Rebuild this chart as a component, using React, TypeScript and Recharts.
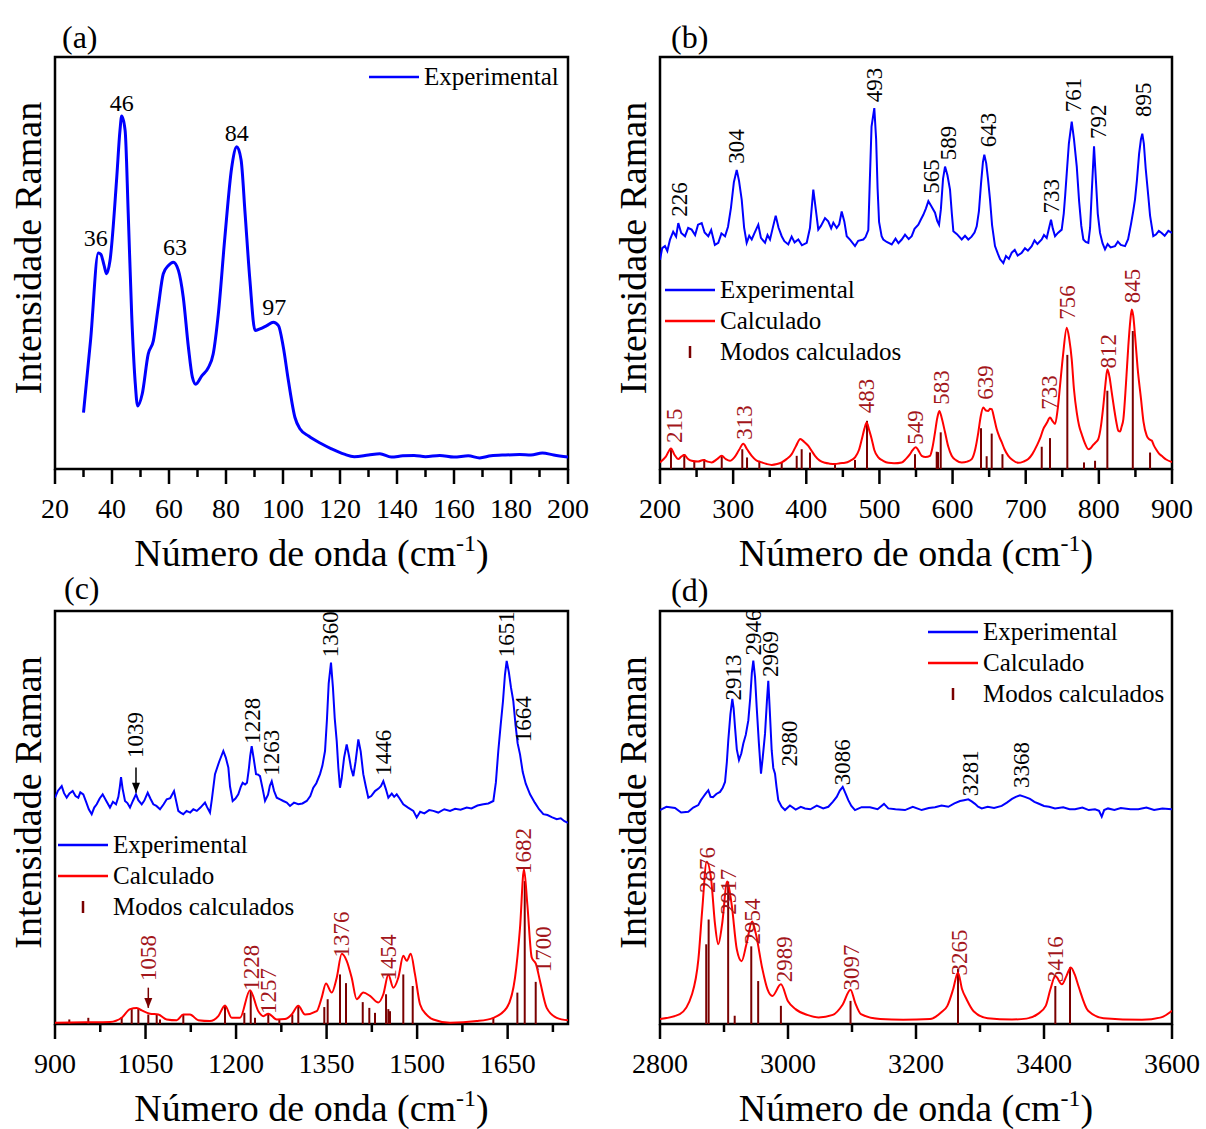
import React from 'react';
import {
  ComposedChart,
  Line,
  XAxis,
  YAxis,
  ReferenceArea,
  ReferenceLine,
  ReferenceDot,
  Legend,
  Label,
} from 'recharts';

type Pt = [number, number];

const SERIF = '"Liberation Serif", "Times New Roman", serif';
const BLUE = '#0000ff';
const RED = '#ff0000';
const STICK = '#7a0000';
const RED_TXT = '#a3161b';

// ---------- panel (a) ----------
const aTicksMajor = [20, 40, 60, 80, 100, 120, 140, 160, 180, 200];
const aTicksMinor = [30, 50, 70, 90, 110, 130, 150, 170, 190];
const aExp: Pt[] = [
  [30, 13.7], [32.5, 31.4], [35.2, 52.4], [36.1, 52.1], [37.2, 49.5], [38.1, 47.4], [39.3, 50.6],
  [41.6, 70.1], [42.8, 82.2], [43.4, 85.7], [44.6, 82.2], [45.7, 61.9], [46.9, 37.6], [48.1, 21.4],
  [49.0, 15.3], [50.6, 18.2], [52.7, 27.9], [54.5, 31.1], [56.2, 39.2], [58.0, 47.4], [59.8, 49.4],
  [61.5, 50.2], [63.3, 48.2], [65, 41.7], [66.8, 29.6], [68.2, 22.3], [69.4, 20.6], [71.5, 22.6],
  [73.8, 24.6], [75.5, 27.9], [77.3, 37.6], [79.6, 56.2], [82.0, 73.2], [83.8, 78.2], [85.3, 75.0],
  [86.7, 62.0], [88.4, 45.7], [90.2, 33.6], [91.9, 34.0], [94.3, 34.8], [96.6, 35.6], [98.4, 34.8],
  [100.1, 29.6], [101.9, 21.4], [104.2, 12.5], [106, 9.7], [109, 8.0], [113, 6.3], [117, 4.9],
  [121.5, 3.6], [125, 3.0], [130, 3.4], [134, 3.7], [138, 2.9], [142, 3.2], [146, 3.3], [150, 3.0],
  [155, 3.3], [160, 2.9], [165, 3.2], [169, 2.7], [173, 3.2], [178, 3.4], [183, 3.5], [187, 3.4],
  [191, 3.9], [195, 3.4], [200, 2.9],
];
const aExpLabels = [
  { t: '36', x: 34.3, y: 56.1 },
  { t: '46', x: 43.4, y: 88.9 },
  { t: '63', x: 62.1, y: 53.8 },
  { t: '84', x: 83.8, y: 81.6 },
  { t: '97', x: 96.9, y: 39.2 },
];

// ---------- panel (b) ----------
const bTicksMajor = [200, 300, 400, 500, 600, 700, 800, 900];
const bTicksMinor = [250, 350, 450, 550, 650, 750, 850];
const bExp: Pt[] = [
  [200, 50.8], [203, 53.6], [206.8, 54.1], [210, 52.9], [213.7, 55.7], [218, 57.6], [222, 56.4],
  [225, 59.7], [229, 57.3], [234.2, 56.5], [238.5, 58.5], [243.3, 58.1], [248, 56.8], [252, 59.3],
  [257, 59.7], [261, 57.4], [266, 56.5], [270, 58.0], [275, 54.4], [279.7, 54.9], [284, 57.2],
  [288.9, 56.5], [293, 58.8], [297, 63.4], [301, 69.6], [304.9, 72.6], [308, 70.0], [311.7, 65.4],
  [315, 58.6], [318.5, 54.9], [322, 56.6], [325.4, 55.7], [329, 57.2], [334.4, 59.3], [338, 56.1],
  [343.6, 54.9], [347, 56.8], [350.4, 55.7], [354, 58.4], [358.2, 61.5], [362, 58.6], [366.4, 56.5],
  [370, 55.3], [375.4, 54.5], [380, 56.4], [384, 55.0], [389.1, 55.7], [394, 54.3], [400.6, 54.9],
  [405, 58.5], [409.6, 67.8], [413, 63.0], [416.4, 58.1], [420, 59.0], [425.6, 60.9], [430, 60.1],
  [434, 58.4], [437, 59.8], [441.6, 58.5], [445, 59.4], [448.4, 62.5], [452, 60.1], [455.3, 56.5],
  [460, 55.6], [466.6, 54.1], [471, 55.4], [478, 55.7], [481, 56.3], [484.8, 58], [486.9, 70.2],
  [489.2, 83.1], [493, 87.6], [495.5, 80], [497.5, 68], [499.5, 60], [503, 56.5], [505.3, 55.7],
  [510, 55.1], [516.8, 54.5], [522, 55.9], [526, 54.8], [530.5, 55.7], [535, 56.9], [540, 55.8],
  [544.1, 56.5], [548, 58.3], [553.2, 59.3], [556.5, 60.5], [560, 61.7], [563.5, 63.2], [566.9, 65.0],
  [571, 63.8], [576, 62.2], [579, 60.2], [581.5, 59.3], [584, 63], [587, 70.5], [589.7, 73.4],
  [593, 71.3], [596.5, 67.8], [599, 62], [601.1, 57.7], [606, 57.0], [612.5, 55.7], [617, 56.6],
  [621.5, 55.7], [626, 56.4], [630, 57.4], [633, 58.9], [636, 62.5], [639, 69.5], [641.5, 74.5],
  [643.4, 76.3], [646, 74.2], [648.5, 70.3], [651.2, 65.4], [654, 59.2], [658, 54.1], [662, 52.2],
  [665, 50.9], [669.4, 50.0], [673, 51.7], [677, 51.0], [680.9, 52.5], [685, 53.2], [689, 51.8],
  [694.6, 52.5], [699, 53.6], [703, 53.0], [708.2, 54.1], [712, 55.5], [716, 54.6], [721.9, 55.7],
  [725, 56.8], [728.7, 56.1], [731.5, 58.2], [734.6, 60.5], [737, 58.4], [740.1, 56.5], [744, 57.3],
  [749.2, 58.1], [752, 62], [754, 66.5], [756.1, 71.8], [759, 79], [762.9, 84.3], [766, 80],
  [769.8, 73.4], [773, 65], [776, 59], [778.8, 55.7], [782, 55.1], [785.6, 54.9], [788, 58.5],
  [790.5, 68], [793.4, 78.3], [796, 70], [798.5, 62], [801.6, 57.3], [805, 54.8], [808.4, 53.3],
  [812, 54.6], [816, 53.8], [822.1, 54.1], [826, 55.2], [830, 54.4], [835.8, 54.1], [840, 55.8],
  [844, 59.5], [847, 62.6], [849.4, 65.4], [852, 70], [855, 76.5], [857.5, 80], [859.4, 81.4],
  [861.5, 79], [864, 73], [867.6, 66.2], [870, 61.5], [874.4, 56.5], [878, 56.9], [882, 57.8],
  [885.9, 57.3], [890, 56.6], [895, 57.8], [900, 57.3],
];
const bCalc: Pt[] = [
  [200, 1.6], [208, 3.0], [215, 5.0], [220, 3.4], [225, 2.4], [229, 3.0], [233.2, 3.4], [238, 2.5],
  [243.3, 2.0], [252, 1.8], [259.2, 2.2], [265, 1.8], [270.7, 1.6], [278, 2.4], [284.4, 3.2], [290, 2.4],
  [295.7, 2.0], [302, 2.9], [308, 4.6], [313.9, 6.1], [319, 4.8], [325.4, 3.2], [331, 2.2], [339, 1.6],
  [346, 1.2], [352.7, 1.0], [360, 1.2], [366.4, 1.6], [373, 2.4], [380.1, 3.6], [386, 5.6], [391.8, 7.3],
  [397, 6.6], [402.8, 5.6], [407, 4.5], [411.9, 3.2], [418, 2.1], [425.6, 1.5], [432, 1.3], [439.3, 1.2],
  [446, 1.4], [452.9, 1.5], [460, 2.0], [466.6, 2.8], [472, 4.6], [476, 7.3], [479.5, 9.8], [482.6, 11.3],
  [486, 9.4], [489.4, 7.3], [493, 4.6], [498.5, 2.8], [505, 2.0], [512.1, 1.5], [520, 1.4], [530.5, 1.6],
  [536, 2.4], [541.8, 3.6], [545, 4.5], [549.6, 5.3], [553, 4.6], [557.8, 3.2], [563, 2.9], [569.1, 3.2],
  [572.5, 5.2], [576, 8.9], [579, 12.3], [581.9, 14.1], [585, 12.5], [589.7, 8.9], [594, 5.5], [598.8, 3.2],
  [605, 2.1], [612.5, 1.6], [620, 1.8], [626.2, 2.4], [631, 4.8], [635.2, 8.9], [638.5, 12.8], [642, 14.9],
  [645.5, 14.2], [648.9, 14.1], [651, 14.6], [653.5, 14.5], [657, 12.2], [660.3, 9.7], [664, 7.8],
  [667.2, 6.5], [671, 4.8], [676.2, 3.2], [682, 2.2], [689.9, 1.5], [697, 1.8], [703.5, 2.4], [709, 3.6],
  [715, 5.6], [720, 7.6], [724, 9.7], [729, 11.2], [733.2, 12.5], [736.5, 11.7], [740.1, 10.9],
  [743.5, 14.2], [746.9, 20.2], [751, 27.6], [756.1, 34.3], [759.5, 31.6], [762.9, 26.6], [766, 19.3],
  [769.8, 13.7], [773, 10.5], [777, 8.2], [781, 6.2], [785.6, 4.8], [789, 5.1], [792, 5.8], [796, 6.5],
  [799.3, 7.3], [803, 10.6], [806.1, 15.3], [809, 20.6], [811.6, 24.2], [814.5, 22.4], [817.6, 18.6],
  [821, 14.5], [824, 11.3], [826.6, 9.3], [829, 9.1], [831, 10.2], [833.5, 12.1], [837, 20.5],
  [840.3, 29.9], [843, 36.0], [845, 38.7], [847, 37.2], [849.5, 32.3], [853, 24.5], [857.7, 16.9],
  [861, 11.5], [865.4, 8.1], [869, 7.2], [872.3, 6.9], [875, 5.8], [878.2, 4.8], [882, 3.8],
  [885.9, 3.2], [892, 2.3], [900, 1.7],
];
const bModes: Pt[] = [
  [215, 4.8], [233.2, 3.6], [246.9, 2.0], [260.5, 2.4], [284.4, 3.2], [312.5, 4.8], [319, 2.8],
  [335.8, 2.0], [366.4, 1.5], [386.9, 3.2], [393.7, 4.8], [405.1, 4.0], [439.3, 1.2], [466.6, 2.2],
  [483, 11.7], [548.6, 3.6], [578.3, 4.2], [580.1, 4.1], [583.8, 8.9], [638.9, 9.9], [646.6, 3.1],
  [653.5, 8.6], [668.2, 3.6], [721.9, 5.4], [733.2, 7.5], [756.9, 27.7], [779.7, 1.6], [794.8, 2.0],
  [811.6, 19], [846.4, 33.5], [870, 4.0],
];
const bExpLabels = [
  { t: '226', x: 227.3, y: 65.4 },
  { t: '304', x: 304.9, y: 78.3 },
  { t: '493', x: 493.0, y: 93.2 },
  { t: '565', x: 571.5, y: 71.0 },
  { t: '589', x: 594.2, y: 79.1 },
  { t: '643', x: 648.9, y: 82.3 },
  { t: '733', x: 735.5, y: 66.2 },
  { t: '761', x: 765.1, y: 90.8 },
  { t: '792', x: 799.3, y: 84.3 },
  { t: '895', x: 860.8, y: 89.6 },
];
const bCalcLabels = [
  { t: '215', x: 220.5, y: 10.5 },
  { t: '313', x: 316.2, y: 11.3 },
  { t: '483', x: 482.6, y: 17.7 },
  { t: '549', x: 549.6, y: 10.1 },
  { t: '583', x: 585.2, y: 19.8 },
  { t: '639', x: 644.4, y: 21.0 },
  { t: '733', x: 733.2, y: 18.6 },
  { t: '756', x: 756.9, y: 40.4 },
  { t: '812', x: 812.9, y: 28.6 },
  { t: '845', x: 845.7, y: 44.4 },
];

// ---------- panel (c) ----------
const cTicksMajor = [900, 1050, 1200, 1350, 1500, 1650];
const cTicksMinor = [975, 1125, 1275, 1425, 1575, 1725];
const cExp: Pt[] = [
  [900, 54.8], [905, 56.5], [911.1, 57.6], [915, 55.9], [919.4, 54.8], [924, 55.8], [929.3, 56.4],
  [934, 55.2], [938.6, 54.8], [942, 56.1], [946.9, 55.6], [952, 53.6], [956, 52.0], [960.8, 50.8],
  [965, 52.4], [969.1, 53.2], [974, 54.6], [979, 55.6], [985, 54.0], [991.1, 52.4], [996, 53.8],
  [1001.1, 53.2], [1005, 55.0], [1007.5, 57.5], [1009.4, 59.8], [1012, 57.0], [1016, 54.0],
  [1020, 53.5], [1024.3, 52.4], [1029, 54.0], [1034.2, 55.6], [1038, 54.2], [1043.7, 53.2],
  [1048, 54.1], [1053.6, 56.0], [1058, 54.6], [1062.9, 53.2], [1068, 52.8], [1074, 52.0], [1080, 53.2],
  [1085.1, 54.4], [1091, 54.7], [1097.2, 56.4], [1100, 54.5], [1104.3, 51.6], [1108, 51.2],
  [1112.6, 50.8], [1118, 51.6], [1124, 51.2], [1129.2, 52.0], [1135, 51.6], [1141, 52.4], [1148.5, 53.6],
  [1152, 52.5], [1156.8, 51.2], [1160, 54.5], [1165.1, 60.5], [1172, 63.5], [1178.9, 66.1], [1183, 64.5],
  [1187.2, 62.1], [1190, 57.5], [1194.4, 54.0], [1199, 54.6], [1203.7, 55.6], [1208, 57.5], [1211, 58.4],
  [1215, 58.0], [1218.1, 58.4], [1221, 61.5], [1223.5, 65.0], [1225.9, 67.3], [1229, 64.5],
  [1233.1, 60.5], [1236, 60.4], [1239.7, 60.0], [1244, 57.0], [1248, 54.0], [1253, 55.5], [1256, 57.7],
  [1259.1, 58.8], [1263, 56.4], [1267.4, 54.8], [1273, 54.4], [1278.3, 54.0], [1284, 53.6],
  [1289.4, 52.8], [1296, 53.6], [1303.1, 53.2], [1310, 53.4], [1317.1, 54.0], [1323, 55.2], [1328, 57.2],
  [1333, 58.3], [1339.1, 60.5], [1343, 62.5], [1347.4, 66.1], [1350.5, 73.5], [1353.5, 82.5],
  [1357.3, 87.5], [1360.5, 81.5], [1363.5, 74.0], [1366.8, 68.5], [1369.5, 62.0], [1372.2, 57.2],
  [1375, 59.5], [1379, 64.5], [1383.3, 67.7], [1387, 65.0], [1390.5, 62.0], [1394.3, 60.0], [1398, 63.5],
  [1402.6, 68.9], [1406.5, 66.0], [1410.8, 60.5], [1415, 57.5], [1419.1, 54.8], [1424, 55.2],
  [1430.2, 56.4], [1436, 57.0], [1440, 57.6], [1444, 58.8], [1448, 57.0], [1452.3, 54.8], [1458, 55.8],
  [1462, 55.0], [1466.2, 55.6], [1471, 54.6], [1477.1, 53.2], [1485, 52.4], [1493.7, 51.6],
  [1499.3, 50.0], [1505, 51.4], [1512, 51.0], [1520, 51.8], [1526.8, 51.6], [1535, 51.2], [1545, 52.0],
  [1554.5, 51.6], [1563, 52.1], [1572, 51.9], [1582.2, 52.4], [1590, 52.2], [1600, 52.9], [1609.7, 53.2],
  [1618, 53.4], [1626.3, 54.0], [1630.5, 58.5], [1634.5, 66.1], [1638.5, 72.5], [1642.3, 78.2],
  [1645.5, 84.5], [1648.4, 87.9], [1652, 85.2], [1655.5, 81.5], [1659.4, 78.2], [1663, 72.5],
  [1666.5, 68.0], [1670.5, 65.3], [1675, 61.0], [1680, 58.2], [1687.1, 55.6], [1695, 53.6], [1702, 52.0],
  [1709.1, 50.8], [1716, 50.6], [1723, 50.1], [1731.3, 49.6], [1738, 49.8], [1744, 49.1], [1750, 48.7],
];
const cCalc: Pt[] = [
  [900, 0.3], [950, 0.4], [991.1, 0.5], [1010.5, 1.5], [1024.3, 3.6], [1035.4, 3.9], [1043.7, 3.3],
  [1057.4, 2.5], [1071.2, 2.3], [1085.1, 1.1], [1101.7, 0.9], [1112.6, 2.3], [1123.7, 2.3],
  [1137.4, 0.9], [1156.8, 0.7], [1170.6, 1.9], [1181.7, 4.5], [1192.8, 1.5], [1206.5, 1.5],
  [1223.1, 8.2], [1236.9, 3.1], [1245.2, 1.9], [1253.4, 2.5], [1267.4, 1.1], [1281.1, 1.2],
  [1292.2, 2.3], [1303.1, 4.4], [1314.3, 2.3], [1333.6, 3.1], [1341.9, 6.4], [1349.0, 9.8],
  [1358.5, 7.6], [1366.8, 11.2], [1375.1, 17.0], [1383.3, 15.3], [1391.6, 11.2], [1399.9, 6.0],
  [1410.8, 7.6], [1421.9, 6.8], [1435.7, 5.2], [1444.0, 7.2], [1452.3, 11.9], [1460.6, 8.8],
  [1468.8, 11.2], [1477.1, 16.5], [1482.8, 15.3], [1489.4, 17.0], [1496.5, 12.0], [1504.8, 4.8],
  [1515.9, 2.2], [1526.8, 1.1], [1554.5, 0.3], [1598.8, 0.7], [1626.3, 1.5], [1648.4, 3.9],
  [1662.2, 11.2], [1670.5, 23.3], [1677.1, 37.5], [1682.6, 29.0], [1689.9, 16.1], [1697.0, 14.5],
  [1703.6, 10.4], [1714.7, 3.9], [1731.3, 1.5], [1750, 0.9],
];
const cModes: Pt[] = [
  [923.7, 1.1], [955.2, 1.5], [1010.5, 1.7], [1027.1, 3.6], [1038.1, 3.9], [1054.6, 2.3], [1068.5, 2.3],
  [1074, 1.1], [1112.6, 2.3], [1181.7, 4.4], [1213.7, 2.7], [1224.3, 8.0], [1231.4, 1.5], [1253.4, 2.5],
  [1271.7, 1.1], [1293.2, 2.3], [1303.1, 4.4], [1346.2, 4.1], [1351.8, 6.0], [1372.2, 12.0],
  [1382.2, 9.9], [1409.9, 5.3], [1420.8, 3.9], [1430.2, 2.7], [1448.5, 7.2], [1452.3, 3.6],
  [1455.1, 3.1], [1477.1, 12.0], [1492.7, 9.2], [1626.3, 1.5], [1666.1, 7.6], [1678.3, 34.6],
  [1696.5, 10.2],
];
const cExpLabels = [
  { t: '1039', x: 1034.2, y: 70.0 },
  { t: '1228', x: 1227.6, y: 73.4 },
  { t: '1263', x: 1259.1, y: 65.7 },
  { t: '1360', x: 1357.3, y: 94.4 },
  { t: '1446', x: 1444.0, y: 65.7 },
  { t: '1651', x: 1648.4, y: 94.4 },
  { t: '1664', x: 1676.0, y: 73.8 },
];
const cCalcLabels = [
  { t: '1058', x: 1055.5, y: 16.0 },
  { t: '1228', x: 1225.9, y: 13.6 },
  { t: '1257', x: 1253.4, y: 8.0 },
  { t: '1376', x: 1375.1, y: 21.7 },
  { t: '1454', x: 1452.3, y: 16.1 },
  { t: '1682', x: 1677.1, y: 41.9 },
  { t: '1700', x: 1709.1, y: 18.1 },
];

// ---------- panel (d) ----------
const dTicksMajor = [2800, 3000, 3200, 3400, 3600];
const dTicksMinor = [2900, 3100, 3300, 3500];
const dExp: Pt[] = [
  [2800, 51.8], [2810, 52.6], [2823.4, 52.3], [2833, 51.2], [2844.2, 51.4], [2852, 52.4], [2859.8, 53.0],
  [2864, 54.2], [2867.2, 54.9], [2871, 55.7], [2875.5, 56.6], [2879, 55.0], [2882.8, 54.9], [2888, 55.7],
  [2893.8, 56.2], [2898, 57.2], [2901.6, 58.6], [2904.5, 63.5], [2906.7, 68.7], [2910, 75.0],
  [2913.0, 78.7], [2915, 76.5], [2917.2, 71.9], [2920, 66.5], [2923.4, 63.9], [2927, 65.5],
  [2930.2, 67.9], [2934, 70.0], [2938.0, 73.5], [2941, 79.0], [2943.5, 85.0], [2945.8, 88.0],
  [2948.5, 84.0], [2951.1, 76.7], [2954.5, 68.0], [2957.8, 60.6], [2960.5, 64.5], [2964.1, 70.3],
  [2967, 78.0], [2969.2, 83.1], [2971.5, 76.0], [2974.5, 66.3], [2977, 62.0], [2979.7, 60.6],
  [2982, 57.5], [2984.8, 54.2], [2990, 52.6], [2995.3, 51.8], [3003, 52.9], [3012, 51.9], [3020, 52.6],
  [3026.6, 52.2], [3035, 52.0], [3045, 52.9], [3055, 52.2], [3063.0, 52.6], [3070, 53.8], [3076.1, 55.0],
  [3081, 56.5], [3085.5, 57.4], [3090, 55.8], [3094.2, 54.2], [3099, 52.8], [3104.7, 51.8], [3115, 52.5],
  [3128.1, 52.5], [3140, 52.0], [3150, 53.3], [3156.7, 52.2], [3168, 52.0], [3182.8, 51.8], [3195, 52.6],
  [3208.9, 51.8], [3220, 52.3], [3229.7, 52.5], [3240, 52.9], [3250.5, 52.6], [3260, 53.4],
  [3268.8, 54.0], [3275, 54.2], [3281.7, 54.4], [3287, 53.9], [3292.2, 53.3], [3297, 52.6],
  [3302.7, 52.2], [3312, 52.6], [3322, 52.3], [3333.9, 52.8], [3342, 53.6], [3350, 54.5], [3356, 55.0],
  [3362.5, 55.4], [3370, 55.0], [3378.1, 54.5], [3385, 53.8], [3391.1, 53.4], [3400, 52.8], [3408, 52.6],
  [3417.2, 52.2], [3430, 52.5], [3440, 52.0], [3448.4, 52.0], [3460, 52.4], [3470, 51.8], [3479.7, 52.0],
  [3486, 51.6], [3490.2, 50.2], [3494, 51.8], [3500, 52.2], [3510, 51.8], [3520, 52.3], [3535, 52.0],
  [3547.3, 52.0], [3560, 52.4], [3572, 51.8], [3585, 52.2], [3600, 52.0],
];
const dCalc: Pt[] = [
  [2800, 1.2], [2831, 2.4], [2850, 7.2], [2860, 15.7], [2866, 27.7], [2873, 39.3], [2880, 34.9],
  [2886, 24.1], [2891, 19.3], [2897, 24.1], [2905, 34.5], [2912, 28.9], [2920, 18.1], [2927.5, 15.2],
  [2935, 19.3], [2944, 24.8], [2950, 21.7], [2960, 13.3], [2968, 8.4], [2975.6, 6.8], [2988.9, 9.6],
  [3000, 5.5], [3011.7, 3.6], [3030, 2.2], [3047.8, 1.6], [3070, 2.2], [3085, 4.6], [3097.7, 8.3],
  [3105, 5.1], [3114, 2.4], [3144, 1.2], [3180, 1.0], [3222, 1.2], [3240, 2.9], [3249, 4.4],
  [3258, 8.4], [3265.6, 12.5], [3272, 8.4], [3279, 6.0], [3290, 3.1], [3312, 1.4], [3350, 1.1],
  [3372.6, 1.3], [3390, 2.4], [3402.7, 4.4], [3410, 8.4], [3417.7, 11.6], [3428, 9.6], [3435, 11.6],
  [3441.8, 13.7], [3448, 12.0], [3453.8, 9.2], [3468.9, 3.2], [3493, 1.4], [3553, 1.0], [3583, 1.6],
  [3600, 3.2],
];
const dModes: Pt[] = [
  [2872.2, 19.3], [2876, 25.3], [2906.5, 34.5], [2916.7, 2.0], [2942.6, 18.8], [2953.4, 10.4],
  [2988.9, 4.4], [3097.7, 5.6], [3265.6, 13.3], [3417.7, 9.2], [3440.6, 13.7],
];
const dExpLabels = [
  { t: '2913', x: 2914.5, y: 83.9 },
  { t: '2946', x: 2945.8, y: 94.8 },
  { t: '2969', x: 2971.9, y: 89.6 },
  { t: '2980', x: 3003.1, y: 67.9 },
  { t: '3086', x: 3085.5, y: 63.4 },
  { t: '3281', x: 3284.4, y: 60.7 },
  { t: '3368', x: 3365.2, y: 62.7 },
];
const dCalcLabels = [
  { t: '2876', x: 2875, y: 37.3 },
  { t: '2917', x: 2906.3, y: 32.0 },
  { t: '2954', x: 2943.8, y: 24.8 },
  { t: '2989', x: 2993.8, y: 15.7 },
  { t: '3097', x: 3099.2, y: 13.7 },
  { t: '3265', x: 3267.2, y: 17.3 },
  { t: '3416', x: 3417.2, y: 15.7 },
];

const legendFull = ['Experimental', 'Calculado', 'Modos calculados'];

// ---------- drawing helpers ----------
const W = 603;
const AXIS_H = 90;

const rows = (pts: Pt[]) => pts.map(([x, y]) => ({ x, y }));

const renderTick = (major: number[]) => (props: any) => {
  const { x, y, payload } = props;
  const isMajor = major.includes(payload.value);
  return (
    <g>
      <line x1={x} x2={x} y1={y} y2={y + (isMajor ? 15 : 8)} stroke="#000" strokeWidth={2.5} />
      {isMajor && (
        <text x={x} y={y + 49} textAnchor="middle" fontSize={28} fontFamily={SERIF} fill="#000">
          {payload.value}
        </text>
      )}
    </g>
  );
};

// axis titles: x title under the axis, y title left of the plot (plotH = plot height)
const makeTitles = (plotH: number) => (props: any) => {
  const vb = props.viewBox;
  const cx = vb.x + vb.width / 2;
  const cy = vb.y + 97;
  const yx = vb.x - 27;
  const yy = vb.y - plotH / 2 - 15;
  return (
    <g>
      <text x={cx} y={cy} textAnchor="middle" fontSize={38} fontFamily={SERIF} fill="#000">
        Número de onda (cm
        <tspan fontSize={24} dy={-15}>-1</tspan>
        <tspan dy={15}>)</tspan>
      </text>
      <text
        x={yx}
        y={yy}
        transform={`rotate(-90 ${yx} ${yy})`}
        textAnchor="middle"
        dominantBaseline="central"
        fontSize={38}
        fontFamily={SERIF}
        fill="#000"
      >
        Intensidade Raman
      </text>
    </g>
  );
};

const peakText = (t: string, color: string, rotate: boolean, size: number) => (p: any) => (
  <text
    x={p.cx}
    y={p.cy}
    transform={rotate ? `rotate(-90 ${p.cx} ${p.cy})` : undefined}
    textAnchor="middle"
    dominantBaseline="central"
    fontSize={size}
    fontFamily={SERIF}
    fill={color}
  >
    {t}
  </text>
);

const arrowHead = (color: string) => (p: any) => (
  <polygon points={`${p.cx - 4},${p.cy - 10} ${p.cx + 4},${p.cy - 10} ${p.cx},${p.cy}`} fill={color} />
);

const LegendBox = ({ names }: { names: string[] }) => {
  const colors = [BLUE, RED, STICK];
  return (
    <div style={{ fontFamily: SERIF, fontSize: 25, color: '#000' }}>
      {names.map((n, i) => (
        <div key={n} style={{ display: 'flex', alignItems: 'center', height: 31, whiteSpace: 'nowrap' }}>
          <svg width={50} height={31}>
            {i < 2 ? (
              <line x1={0} x2={50} y1={16} y2={16} stroke={colors[i]} strokeWidth={2.5} />
            ) : (
              <line x1={25} x2={25} y1={10} y2={22} stroke={colors[i]} strokeWidth={2.5} />
            )}
          </svg>
          <span style={{ marginLeft: 5 }}>{n}</span>
        </div>
      ))}
    </div>
  );
};

interface PeakLabel {
  t: string;
  x: number;
  y: number;
}

interface PanelProps {
  left: number;
  top: number;
  height: number;
  margin: { top: number; right: number; bottom: number; left: number };
  domain: [number, number];
  major: number[];
  minor: number[];
  exp: Pt[];
  expWidth: number;
  expType: 'linear' | 'monotone';
  calc?: Pt[];
  modes?: Pt[];
  expLabels: PeakLabel[];
  calcLabels?: PeakLabel[];
  rotateLabels: boolean;
  arrows?: { x: number; y1: number; y2: number; color: string }[];
  legendNames: string[];
  legendPos: { left: number; top: number };
  letter: string;
  letterPos: { left: number; top: number };
}

const Panel: React.FC<PanelProps> = (p) => {
  const ticks = [...p.major, ...p.minor].sort((a, b) => a - b);
  const plotH = p.height - p.margin.top - p.margin.bottom - AXIS_H;
  return (
    <div style={{ position: 'absolute', left: p.left, top: p.top, width: W, height: p.height }}>
      <div
        style={{
          position: 'absolute',
          left: p.letterPos.left,
          top: p.letterPos.top,
          fontFamily: SERIF,
          fontSize: 32,
          color: '#000',
          lineHeight: '36px',
        }}
      >
        {p.letter}
      </div>
      <ComposedChart width={W} height={p.height} margin={p.margin}>
        <XAxis
          type="number"
          dataKey="x"
          domain={p.domain}
          allowDataOverflow
          ticks={ticks}
          interval={0}
          tickSize={0}
          tickMargin={0}
          axisLine={false}
          tickLine={false}
          tick={renderTick(p.major)}
          height={AXIS_H}
        >
          <Label content={makeTitles(plotH)} />
        </XAxis>
        <YAxis
          type="number"
          domain={[0, 100]}
          allowDataOverflow
          width={0}
          tick={false}
          axisLine={false}
          tickLine={false}
        />
        {p.modes &&
          p.modes.map(([w, h], i) => (
            <ReferenceLine
              key={`m${i}`}
              segment={[
                { x: w, y: 0 },
                { x: w, y: h },
              ]}
              stroke={STICK}
              strokeWidth={2}
            />
          ))}
        {p.calc && (
          <Line
            data={rows(p.calc)}
            dataKey="y"
            type="monotone"
            stroke={RED}
            strokeWidth={2}
            dot={false}
            activeDot={false}
            isAnimationActive={false}
          />
        )}
        <Line
          data={rows(p.exp)}
          dataKey="y"
          type={p.expType}
          stroke={BLUE}
          strokeWidth={p.expWidth}
          dot={false}
          activeDot={false}
          isAnimationActive={false}
        />
        {p.expLabels.map((l) => (
          <ReferenceDot
            key={`e${l.t}`}
            x={l.x}
            y={l.y}
            r={0}
            shape={peakText(l.t, '#000', p.rotateLabels, p.rotateLabels ? 23 : 24)}
          />
        ))}
        {p.calcLabels &&
          p.calcLabels.map((l) => (
            <ReferenceDot key={`c${l.t}`} x={l.x} y={l.y} r={0} shape={peakText(l.t, RED_TXT, true, 23)} />
          ))}
        {p.arrows &&
          p.arrows.map((a, i) => (
            <ReferenceLine
              key={`al${i}`}
              segment={[
                { x: a.x, y: a.y1 },
                { x: a.x, y: a.y2 },
              ]}
              stroke={a.color}
              strokeWidth={1.5}
            />
          ))}
        {p.arrows &&
          p.arrows.map((a, i) => (
            <ReferenceDot key={`ah${i}`} x={a.x} y={a.y2} r={0} shape={arrowHead(a.color)} />
          ))}
        <ReferenceArea
          x1={p.domain[0]}
          x2={p.domain[1]}
          y1={0}
          y2={100}
          fill="none"
          fillOpacity={0}
          stroke="#000"
          strokeWidth={2.5}
        />
        <Legend
          layout="vertical"
          align="center"
          verticalAlign="middle"
          content={() => <LegendBox names={p.legendNames} />}
          wrapperStyle={{ left: p.legendPos.left, top: p.legendPos.top, width: 320, height: 'auto' }}
        />
      </ComposedChart>
    </div>
  );
};

export default function App() {
  return (
    <div
      style={{
        position: 'absolute',
        left: 0,
        top: 0,
        width: 1206,
        height: 1129,
        background: '#fff',
        overflow: 'hidden',
      }}
    >
      <Panel
        left={0}
        top={0}
        height={600}
        margin={{ top: 57, right: 35, bottom: 41, left: 55 }}
        domain={[20, 200]}
        major={aTicksMajor}
        minor={aTicksMinor}
        exp={aExp}
        expWidth={3}
        expType="monotone"
        expLabels={aExpLabels}
        rotateLabels={false}
        legendNames={legendFull.slice(0, 1)}
        legendPos={{ left: 369, top: 61 }}
        letter="(a)"
        letterPos={{ left: 62, top: 19 }}
      />
      <Panel
        left={603}
        top={0}
        height={600}
        margin={{ top: 57, right: 34, bottom: 41, left: 57 }}
        domain={[200, 900]}
        major={bTicksMajor}
        minor={bTicksMinor}
        exp={bExp}
        expWidth={2}
        expType="linear"
        calc={bCalc}
        modes={bModes}
        expLabels={bExpLabels}
        calcLabels={bCalcLabels}
        rotateLabels
        legendNames={legendFull}
        legendPos={{ left: 62, top: 274 }}
        letter="(b)"
        letterPos={{ left: 68, top: 19 }}
      />
      <Panel
        left={0}
        top={564}
        height={565}
        margin={{ top: 47, right: 35, bottom: 15, left: 55 }}
        domain={[900, 1750]}
        major={cTicksMajor}
        minor={cTicksMinor}
        exp={cExp}
        expWidth={2}
        expType="linear"
        calc={cCalc}
        modes={cModes}
        expLabels={cExpLabels}
        calcLabels={cCalcLabels}
        rotateLabels
        arrows={[
          { x: 1034.2, y1: 62.1, y2: 56.0, color: '#000' },
          { x: 1054.6, y1: 8.8, y2: 3.9, color: STICK },
        ]}
        legendNames={legendFull}
        legendPos={{ left: 58, top: 265 }}
        letter="(c)"
        letterPos={{ left: 64, top: 6 }}
      />
      <Panel
        left={603}
        top={564}
        height={565}
        margin={{ top: 47, right: 34, bottom: 15, left: 57 }}
        domain={[2800, 3600]}
        major={dTicksMajor}
        minor={dTicksMinor}
        exp={dExp}
        expWidth={2}
        expType="linear"
        calc={dCalc}
        modes={dModes}
        expLabels={dExpLabels}
        calcLabels={dCalcLabels}
        rotateLabels
        legendNames={legendFull}
        legendPos={{ left: 325, top: 52 }}
        letter="(d)"
        letterPos={{ left: 68, top: 8 }}
      />
    </div>
  );
}
